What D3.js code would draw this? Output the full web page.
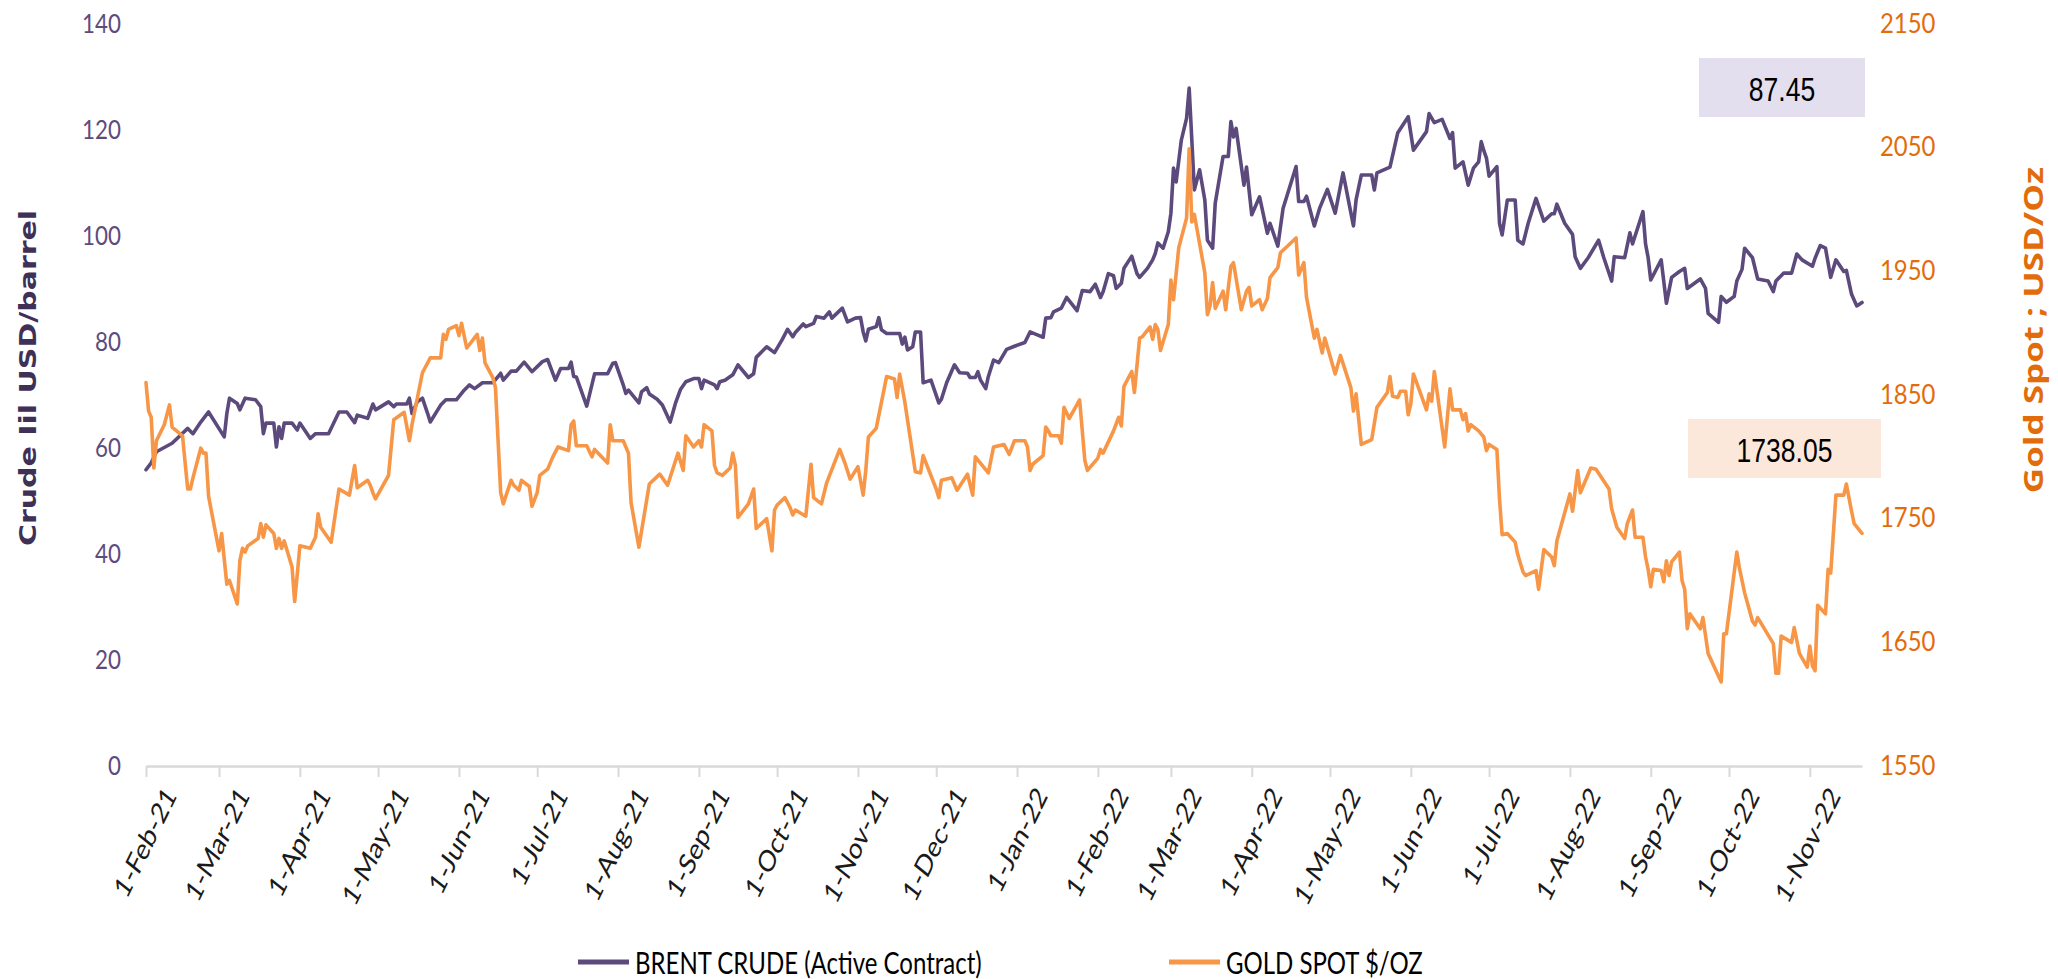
<!DOCTYPE html>
<html>
<head>
<meta charset="utf-8">
<script src="https://cdn.jsdelivr.net/npm/d3@7"></script>
<style>
  body { margin: 0; background: #ffffff; }
</style>
</head>
<body>
<div class="chart"></div>
<script>
// ---------------- data ----------------
var brentDates = [
  "2021-02-01","2021-02-03","2021-02-05","2021-02-11","2021-02-17","2021-02-19","2021-02-22","2021-02-25",
  "2021-03-03","2021-03-04","2021-03-05","2021-03-08","2021-03-09","2021-03-11","2021-03-15","2021-03-17",
  "2021-03-18","2021-03-19","2021-03-22","2021-03-23","2021-03-24","2021-03-25","2021-03-26","2021-03-29",
  "2021-03-31","2021-04-01","2021-04-05","2021-04-07","2021-04-12","2021-04-16","2021-04-19","2021-04-22",
  "2021-04-23","2021-04-27","2021-04-29","2021-04-30","2021-05-05","2021-05-07","2021-05-08","2021-05-12",
  "2021-05-13","2021-05-14","2021-05-16","2021-05-18","2021-05-20","2021-05-21","2021-05-25","2021-05-27",
  "2021-05-31","2021-06-03","2021-06-05","2021-06-07","2021-06-10","2021-06-14","2021-06-17","2021-06-18",
  "2021-06-21","2021-06-23","2021-06-26","2021-06-29","2021-07-03","2021-07-05","2021-07-08","2021-07-10",
  "2021-07-13","2021-07-14","2021-07-15","2021-07-16","2021-07-20","2021-07-23","2021-07-28","2021-07-30",
  "2021-07-31","2021-08-03","2021-08-04","2021-08-05","2021-08-09","2021-08-10","2021-08-12","2021-08-13",
  "2021-08-16","2021-08-18","2021-08-21","2021-08-23","2021-08-25","2021-08-27","2021-08-30","2021-09-01",
  "2021-09-02","2021-09-03","2021-09-07","2021-09-08","2021-09-09","2021-09-11","2021-09-14","2021-09-16",
  "2021-09-20","2021-09-22","2021-09-23","2021-09-27","2021-09-30","2021-10-03","2021-10-05","2021-10-07",
  "2021-10-08","2021-10-11","2021-10-12","2021-10-15","2021-10-16","2021-10-19","2021-10-21","2021-10-22",
  "2021-10-26","2021-10-28","2021-10-31","2021-11-02","2021-11-03","2021-11-04","2021-11-05","2021-11-08",
  "2021-11-09","2021-11-10","2021-11-12","2021-11-17","2021-11-18","2021-11-19","2021-11-20","2021-11-22",
  "2021-11-23","2021-11-25","2021-11-26","2021-11-29","2021-12-02","2021-12-03","2021-12-05","2021-12-08",
  "2021-12-10","2021-12-13","2021-12-14","2021-12-16","2021-12-17","2021-12-18","2021-12-20","2021-12-21",
  "2021-12-23","2021-12-25","2021-12-28","2021-12-31","2022-01-04","2022-01-06","2022-01-09","2022-01-11",
  "2022-01-12","2022-01-14","2022-01-15","2022-01-18","2022-01-20","2022-01-24","2022-01-26","2022-01-29",
  "2022-01-31","2022-02-02","2022-02-03","2022-02-05","2022-02-07","2022-02-08","2022-02-10","2022-02-11",
  "2022-02-14","2022-02-16","2022-02-17","2022-02-20","2022-02-22","2022-02-23","2022-02-24","2022-02-26",
  "2022-02-28","2022-03-01","2022-03-02","2022-03-03","2022-03-05","2022-03-07","2022-03-08","2022-03-10",
  "2022-03-12","2022-03-14","2022-03-15","2022-03-17","2022-03-18","2022-03-21","2022-03-23","2022-03-24",
  "2022-03-25","2022-03-26","2022-03-29","2022-03-30","2022-04-01","2022-04-04","2022-04-07","2022-04-08",
  "2022-04-11","2022-04-13","2022-04-18","2022-04-19","2022-04-21","2022-04-22","2022-04-25","2022-04-27",
  "2022-04-30","2022-05-03","2022-05-06","2022-05-10","2022-05-11","2022-05-13","2022-05-17","2022-05-18",
  "2022-05-19","2022-05-24","2022-05-27","2022-05-31","2022-06-02","2022-06-07","2022-06-08","2022-06-10",
  "2022-06-13","2022-06-16","2022-06-17","2022-06-18","2022-06-21","2022-06-23","2022-06-25","2022-06-27",
  "2022-06-28","2022-06-29","2022-06-30","2022-07-01","2022-07-04","2022-07-05","2022-07-06","2022-07-08",
  "2022-07-11","2022-07-12","2022-07-14","2022-07-16","2022-07-19","2022-07-22","2022-07-25","2022-07-26",
  "2022-07-27","2022-07-30","2022-08-02","2022-08-03","2022-08-05","2022-08-08","2022-08-12","2022-08-14",
  "2022-08-17","2022-08-18","2022-08-22","2022-08-24","2022-08-25","2022-08-29","2022-08-30","2022-08-31",
  "2022-09-01","2022-09-05","2022-09-07","2022-09-09","2022-09-12","2022-09-14","2022-09-15","2022-09-20",
  "2022-09-22","2022-09-23","2022-09-27","2022-09-28","2022-09-30","2022-10-03","2022-10-04","2022-10-06",
  "2022-10-07","2022-10-10","2022-10-12","2022-10-16","2022-10-18","2022-10-19","2022-10-22","2022-10-25",
  "2022-10-27","2022-10-29","2022-11-02","2022-11-03","2022-11-05","2022-11-07","2022-11-09","2022-11-11",
  "2022-11-14","2022-11-15","2022-11-17","2022-11-19","2022-11-21"
];
var brentValues = [
  55.9,57.2,59.3,60.9,63.7,62.7,64.9,66.8,
  62.1,66.5,69.4,68.4,67.2,69.4,69.1,67.8,
  62.7,64.7,64.7,60.2,64.0,61.8,64.7,64.7,
  63.4,64.7,61.8,62.7,62.7,66.8,66.8,64.8,
  66.2,65.6,68.3,67.2,68.7,67.8,68.3,68.3,
  69.4,66.5,68.7,69.4,66.5,64.9,68.1,69.1,
  69.1,70.9,71.9,71.2,72.3,72.3,74.1,72.8,
  74.5,74.5,76.2,74.4,76.3,76.7,72.8,75.0,
  75.0,76.2,73.5,73.4,67.9,74.0,74.0,76.0,
  76.1,71.9,70.3,70.9,68.5,70.6,71.4,70.2,
  69.2,68.1,64.9,68.4,71.1,72.5,73.1,73.1,
  71.2,72.8,71.9,71.2,72.5,72.8,73.8,75.7,
  73.3,74.0,77.1,79.1,78.0,80.5,82.4,81.0,
  81.8,83.4,82.9,83.5,84.8,84.5,85.7,84.5,
  86.4,83.8,84.5,84.6,81.9,80.2,82.4,82.9,
  84.6,82.3,81.6,81.6,79.6,80.9,78.5,79.1,
  81.9,81.9,72.3,72.8,68.5,69.2,72.3,75.7,
  74.2,74.1,73.3,73.3,74.4,72.8,71.2,73.5,
  76.6,76.1,78.6,79.2,79.9,81.9,81.3,80.9,
  84.5,84.6,85.7,86.4,88.4,85.9,89.7,89.5,
  90.9,88.4,89.5,92.9,92.5,90.1,91.1,93.9,
  96.2,92.9,92.2,93.9,95.5,96.7,98.7,97.7,
  100.8,104.3,112.8,110.2,118.1,122.2,127.9,108.7,
  112.5,106.8,99.2,97.7,106.2,115.0,115.0,121.6,
  118.7,120.3,109.6,113.0,104.0,107.4,100.5,102.4,
  98.1,105.2,113.1,106.5,106.5,107.5,101.9,105.2,
  108.8,104.3,111.9,101.9,106.8,111.5,111.5,108.7,
  111.9,113.0,119.5,122.5,116.2,119.7,123.1,121.4,
  122.0,118.4,119.5,112.8,114.0,109.6,112.8,114.0,
  117.8,116.1,114.7,111.3,113.1,102.4,100.2,106.8,
  106.8,99.2,98.5,102.4,107.1,102.8,104.2,104.2,
  106.0,102.4,100.3,96.1,93.9,95.9,99.2,95.9,
  91.5,96.1,95.9,100.6,98.5,104.6,98.5,95.9,
  91.7,95.5,87.3,92.2,93.3,93.9,90.1,91.9,
  90.1,85.4,83.7,88.6,87.5,88.6,91.5,93.7,
  97.7,95.9,91.9,91.5,89.5,91.5,93.0,93.0,
  96.6,95.5,94.3,95.8,98.2,97.7,92.2,95.5,
  93.3,93.5,89.0,86.8,87.45
];

var goldDates = [
  "2021-02-01","2021-02-02","2021-02-03","2021-02-04","2021-02-05","2021-02-08","2021-02-10","2021-02-11",
  "2021-02-15","2021-02-17","2021-02-18","2021-02-19","2021-02-22","2021-02-23","2021-02-24","2021-02-25",
  "2021-03-01","2021-03-02","2021-03-04","2021-03-05","2021-03-08","2021-03-09","2021-03-10","2021-03-11",
  "2021-03-12","2021-03-16","2021-03-17","2021-03-18","2021-03-19","2021-03-22","2021-03-23","2021-03-24",
  "2021-03-25","2021-03-26","2021-03-29","2021-03-30","2021-03-31","2021-04-01","2021-04-05","2021-04-07",
  "2021-04-08","2021-04-09","2021-04-13","2021-04-16","2021-04-20","2021-04-22","2021-04-23","2021-04-27",
  "2021-04-28","2021-04-29","2021-04-30","2021-05-05","2021-05-07","2021-05-11","2021-05-13","2021-05-14",
  "2021-05-18","2021-05-21","2021-05-25","2021-05-26","2021-05-27","2021-05-28","2021-05-31","2021-06-01",
  "2021-06-02","2021-06-04","2021-06-08","2021-06-09","2021-06-10","2021-06-11","2021-06-14","2021-06-15",
  "2021-06-17","2021-06-18","2021-06-21","2021-06-22","2021-06-24","2021-06-25","2021-06-28","2021-06-29",
  "2021-07-01","2021-07-02","2021-07-05","2021-07-07","2021-07-09","2021-07-13","2021-07-14","2021-07-15",
  "2021-07-16","2021-07-20","2021-07-22","2021-07-23","2021-07-28","2021-07-29","2021-07-30","2021-08-03",
  "2021-08-04","2021-08-05","2021-08-06","2021-08-09","2021-08-13","2021-08-17","2021-08-20","2021-08-24",
  "2021-08-26","2021-08-27","2021-08-30","2021-09-01","2021-09-02","2021-09-03","2021-09-06","2021-09-07",
  "2021-09-08","2021-09-10","2021-09-13","2021-09-14","2021-09-15","2021-09-16","2021-09-20","2021-09-22",
  "2021-09-23","2021-09-27","2021-09-29","2021-09-30","2021-10-01","2021-10-04","2021-10-06","2021-10-07",
  "2021-10-08","2021-10-12","2021-10-14","2021-10-15","2021-10-18","2021-10-20","2021-10-25","2021-10-27",
  "2021-10-29","2021-11-01","2021-11-03","2021-11-04","2021-11-05","2021-11-08","2021-11-12","2021-11-15",
  "2021-11-16","2021-11-17","2021-11-19","2021-11-23","2021-11-25","2021-11-26","2021-12-01","2021-12-02",
  "2021-12-03","2021-12-07","2021-12-09","2021-12-13","2021-12-15","2021-12-16","2021-12-21","2021-12-23",
  "2021-12-27","2021-12-29","2021-12-31","2022-01-04","2022-01-05","2022-01-06","2022-01-07","2022-01-11",
  "2022-01-12","2022-01-13","2022-01-14","2022-01-17","2022-01-18","2022-01-19","2022-01-21","2022-01-25",
  "2022-01-27","2022-01-28","2022-02-01","2022-02-02","2022-02-03","2022-02-07","2022-02-09","2022-02-10",
  "2022-02-11","2022-02-14","2022-02-15","2022-02-17","2022-02-18","2022-02-21","2022-02-22","2022-02-23",
  "2022-02-24","2022-02-25","2022-02-28","2022-03-01","2022-03-02","2022-03-04","2022-03-07","2022-03-08",
  "2022-03-09","2022-03-10","2022-03-14","2022-03-15","2022-03-16","2022-03-17","2022-03-18","2022-03-21",
  "2022-03-22","2022-03-24","2022-03-25","2022-03-28","2022-03-30","2022-03-31","2022-04-01","2022-04-04",
  "2022-04-05","2022-04-07","2022-04-08","2022-04-11","2022-04-12","2022-04-18","2022-04-19","2022-04-21",
  "2022-04-22","2022-04-25","2022-04-26","2022-04-28","2022-04-29","2022-05-03","2022-05-05","2022-05-09",
  "2022-05-10","2022-05-11","2022-05-13","2022-05-17","2022-05-19","2022-05-23","2022-05-24","2022-05-25",
  "2022-05-27","2022-05-28","2022-05-30","2022-05-31","2022-06-01","2022-06-02","2022-06-07","2022-06-08",
  "2022-06-09","2022-06-10","2022-06-14","2022-06-16","2022-06-17","2022-06-20","2022-06-21","2022-06-22",
  "2022-06-23","2022-06-24","2022-06-27","2022-06-29","2022-06-30","2022-07-01","2022-07-04","2022-07-05",
  "2022-07-06","2022-07-08","2022-07-11","2022-07-12","2022-07-14","2022-07-15","2022-07-19","2022-07-20",
  "2022-07-22","2022-07-25","2022-07-26","2022-07-27","2022-08-01","2022-08-02","2022-08-04","2022-08-05",
  "2022-08-09","2022-08-11","2022-08-16","2022-08-17","2022-08-19","2022-08-22","2022-08-23","2022-08-25",
  "2022-08-26","2022-08-29","2022-08-30","2022-08-31","2022-09-01","2022-09-02","2022-09-05","2022-09-06",
  "2022-09-07","2022-09-08","2022-09-09","2022-09-12","2022-09-13","2022-09-14","2022-09-15","2022-09-16",
  "2022-09-20","2022-09-21","2022-09-23","2022-09-28","2022-09-29","2022-09-30","2022-10-04","2022-10-05",
  "2022-10-07","2022-10-10","2022-10-11","2022-10-12","2022-10-18","2022-10-19","2022-10-20","2022-10-21",
  "2022-10-25","2022-10-26","2022-10-28","2022-10-31","2022-11-01","2022-11-02","2022-11-03","2022-11-04",
  "2022-11-07","2022-11-08","2022-11-09","2022-11-11","2022-11-14","2022-11-15","2022-11-17","2022-11-18",
  "2022-11-21"
];
var goldValues = [
  1860,1837,1832,1791,1813,1826,1842,1824,
  1817,1774,1774,1783,1807,1803,1803,1768,
  1724,1738,1697,1700,1681,1716,1726,1723,
  1728,1734,1746,1735,1745,1738,1726,1734,
  1726,1732,1711,1683,1705,1728,1726,1735,
  1754,1743,1731,1774,1769,1793,1775,1781,
  1777,1771,1766,1785,1830,1836,1813,1826,
  1868,1880,1880,1899,1895,1903,1906,1898,
  1908,1888,1899,1886,1896,1876,1864,1856,
  1771,1762,1781,1777,1773,1781,1776,1760,
  1771,1785,1790,1800,1808,1805,1826,1829,
  1809,1809,1800,1806,1795,1826,1813,1813,
  1808,1803,1763,1727,1778,1786,1777,1803,
  1789,1817,1808,1813,1808,1826,1821,1793,
  1787,1785,1791,1803,1793,1751,1762,1774,
  1742,1750,1724,1757,1761,1767,1759,1753,
  1757,1752,1794,1767,1762,1779,1806,1795,
  1782,1792,1769,1789,1816,1823,1865,1863,
  1848,1867,1844,1788,1787,1801,1774,1767,
  1781,1783,1773,1786,1769,1800,1787,1808,
  1810,1802,1813,1813,1808,1789,1794,1801,
  1824,1821,1817,1817,1811,1840,1831,1846,
  1797,1789,1799,1806,1803,1821,1832,1825,
  1857,1869,1852,1896,1897,1905,1895,1907,
  1903,1886,1907,1943,1927,1969,1993,2049,
  1990,1996,1949,1915,1922,1941,1920,1934,
  1919,1954,1957,1919,1934,1937,1922,1927,
  1919,1928,1945,1953,1965,1977,1947,1957,
  1929,1896,1903,1884,1896,1867,1882,1856,
  1837,1851,1810,1814,1840,1852,1865,1849,
  1848,1853,1853,1834,1843,1867,1838,1851,
  1845,1869,1808,1855,1838,1838,1830,1835,
  1821,1826,1821,1816,1805,1810,1806,1766,
  1737,1738,1731,1721,1707,1704,1708,1693,
  1725,1719,1712,1732,1770,1756,1789,1771,
  1791,1790,1774,1758,1743,1734,1746,1757,
  1735,1735,1719,1709,1695,1709,1708,1699,
  1716,1704,1715,1723,1700,1693,1661,1673,
  1661,1670,1641,1618,1657,1657,1723,1710,
  1690,1667,1664,1670,1649,1625,1625,1655,
  1650,1662,1641,1630,1647,1631,1627,1680,
  1673,1709,1706,1769,1769,1778,1756,1746,
  1738.05
];

var leftTicks = [0, 20, 40, 60, 80, 100, 120, 140];
var rightTicks = [1550, 1650, 1750, 1850, 1950, 2050, 2150];
var seriesNames = ["BRENT CRUDE (Active Contract)", "GOLD SPOT $/OZ"];
var leftTitle = "Crude Iil USD/barrel";
var rightTitle = "Gold Spot ; USD/Oz";

// ---------------- layout ----------------
var svgWidth = 2058;
var svgHeight = 979;

var margin = {
  top: 24,
  right: 196,
  bottom: 213,
  left: 146
};

var width = svgWidth - margin.left - margin.right;
var height = svgHeight - margin.top - margin.bottom;

// the picture is narrow horizontally, so every text is squeezed a bit
var squeeze = 0.78;

var brentColor = "#5c4a7d";
var goldColor = "#f79646";

var svg = d3
  .select(".chart")
  .append("svg")
  .attr("width", svgWidth)
  .attr("height", svgHeight)
  .style("display", "block");

svg.append("rect")
  .attr("width", svgWidth)
  .attr("height", svgHeight)
  .attr("fill", "#ffffff");

var chartGroup = svg.append("g")
  .attr("transform", `translate(${margin.left}, ${margin.top})`);

// parse
var parseDate = d3.timeParse("%Y-%m-%d");
var brentData = brentDates.map((d, i) => ({ date: parseDate(d), value: brentValues[i] }));
var goldData = goldDates.map((d, i) => ({ date: parseDate(d), value: goldValues[i] }));

//-------- Scales -------------------------
var xScale = d3.scaleTime()
  .domain([brentData[0].date, brentData[brentData.length - 1].date])
  .range([0, width]);

var yLeft = d3.scaleLinear()
  .domain([0, 140])
  .range([height, 0]);

var yRight = d3.scaleLinear()
  .domain([1550, 2150])
  .range([height, 0]);

//-------- Bottom axis --------------------
var bottomAxis = d3.axisBottom(xScale)
  .ticks(d3.timeMonth.every(1))
  .tickFormat(d3.timeFormat("%-d-%b-%y"))
  .tickSizeInner(11)
  .tickSizeOuter(0);

var xAxis = chartGroup.append("g")
  .attr("transform", `translate(0, ${height})`)
  .call(bottomAxis);

xAxis.select(".domain")
  .attr("stroke", "#d9d9d9")
  .attr("stroke-width", 2.5);

xAxis.selectAll(".tick line")
  .attr("stroke", "#d9d9d9")
  .attr("stroke-width", 2);

xAxis.selectAll(".tick text")
  .attr("x", 0)
  .attr("y", 0)
  .attr("dy", null)
  .attr("text-anchor", "end")
  .attr("transform", `translate(31, 30) scale(${squeeze}, 1) rotate(-58)`)
  .attr("fill", "#1a1a1a")
  .style("font-family", "Lato, 'Open Sans', sans-serif")
  .style("font-size", "30px");

//-------- Left axis ----------------------
var leftAxis = d3.axisLeft(yLeft)
  .tickValues(leftTicks)
  .tickSize(0)
  .tickPadding(0);

var yAxisLeft = svg.append("g")
  .attr("transform", `translate(${margin.left - 25}, ${margin.top})`)
  .call(leftAxis);

yAxisLeft.select(".domain").remove();
yAxisLeft.selectAll(".tick text")
  .attr("x", 0)
  .attr("transform", "scale(0.86, 1)")
  .attr("fill", "#5d4b7e")
  .style("font-family", "Lato, 'Open Sans', sans-serif")
  .style("font-size", "26px");

//-------- Right axis ---------------------
var rightAxis = d3.axisRight(yRight)
  .tickValues(rightTicks)
  .tickFormat(d3.format("d"))
  .tickSize(0)
  .tickPadding(0);

var yAxisRight = svg.append("g")
  .attr("transform", `translate(${margin.left + width + 18}, ${margin.top})`)
  .call(rightAxis);

yAxisRight.select(".domain").remove();
yAxisRight.selectAll(".tick text")
  .attr("x", 0)
  .attr("transform", "scale(0.92, 1)")
  .attr("fill", "#e36c0a")
  .style("font-family", "Lato, 'Open Sans', sans-serif")
  .style("font-size", "26px");

//-------- Axis titles --------------------
svg.append("text")
  .attr("transform", `translate(28, 378) scale(${squeeze}, 1) rotate(-90)`)
  .attr("text-anchor", "middle")
  .attr("dominant-baseline", "central")
  .attr("fill", "#3f3058")
  .style("font-family", "'DejaVu Sans', Verdana, sans-serif")
  .style("font-weight", "bold")
  .style("font-size", "30px")
  .text(leftTitle);

svg.append("text")
  .attr("transform", `translate(2032, 330) scale(${squeeze}, 1) rotate(-90)`)
  .attr("text-anchor", "middle")
  .attr("dominant-baseline", "central")
  .attr("fill", "#e36c0a")
  .style("font-family", "'Open Sans', Lato, sans-serif")
  .style("font-weight", "bold")
  .style("font-size", "35px")
  .text(rightTitle);

//-------- Lines --------------------------
var brentLine = d3.line()
  .x(d => xScale(d.date))
  .y(d => yLeft(d.value));

var goldLine = d3.line()
  .x(d => xScale(d.date))
  .y(d => yRight(d.value));

chartGroup.append("path")
  .datum(brentData)
  .attr("d", brentLine)
  .attr("fill", "none")
  .attr("stroke", brentColor)
  .attr("stroke-width", 3.6)
  .attr("stroke-linejoin", "round")
  .attr("stroke-linecap", "round");

chartGroup.append("path")
  .datum(goldData)
  .attr("d", goldLine)
  .attr("fill", "none")
  .attr("stroke", goldColor)
  .attr("stroke-width", 3.6)
  .attr("stroke-linejoin", "round")
  .attr("stroke-linecap", "round");

//-------- Last value boxes ---------------
var lastBrent = brentValues[brentValues.length - 1];
var lastGold = goldValues[goldValues.length - 1];

var boxes = [
  { x: 1699, y: 58, w: 166, h: 59, fill: "#e4dfee", label: lastBrent.toFixed(2) },
  { x: 1688, y: 419, w: 193, h: 59, fill: "#fce8db", label: lastGold.toFixed(2) }
];

var boxGroup = svg.selectAll(".valbox")
  .data(boxes)
  .enter()
  .append("g")
  .attr("class", "valbox");

boxGroup.append("rect")
  .attr("x", d => d.x)
  .attr("y", d => d.y)
  .attr("width", d => d.w)
  .attr("height", d => d.h)
  .attr("fill", d => d.fill);

boxGroup.append("text")
  .attr("transform", d => `translate(${d.x + d.w / 2}, ${d.y + d.h / 2 + 1}) scale(${squeeze}, 1)`)
  .attr("text-anchor", "middle")
  .attr("dominant-baseline", "central")
  .attr("fill", "#000000")
  .style("font-family", "'Liberation Sans', Arial, sans-serif")
  .style("font-size", "34px")
  .text(d => d.label);

//-------- Legend -------------------------
var legendItems = [
  { name: seriesNames[0], color: brentColor, x: 578 },
  { name: seriesNames[1], color: goldColor, x: 1169 }
];

var legend = svg.selectAll(".legend")
  .data(legendItems)
  .enter()
  .append("g")
  .attr("class", "legend")
  .attr("transform", d => `translate(${d.x}, 962)`);

legend.append("line")
  .attr("x1", 0)
  .attr("x2", 51)
  .attr("y1", 0)
  .attr("y2", 0)
  .attr("stroke", d => d.color)
  .attr("stroke-width", 5);

legend.append("text")
  .attr("transform", "translate(57, 0) scale(0.8, 1)")
  .attr("dominant-baseline", "central")
  .attr("fill", "#000000")
  .style("font-family", "Lato, 'Open Sans', sans-serif")
  .style("font-size", "30px")
  .text(d => d.name);
</script>
</body>
</html>
